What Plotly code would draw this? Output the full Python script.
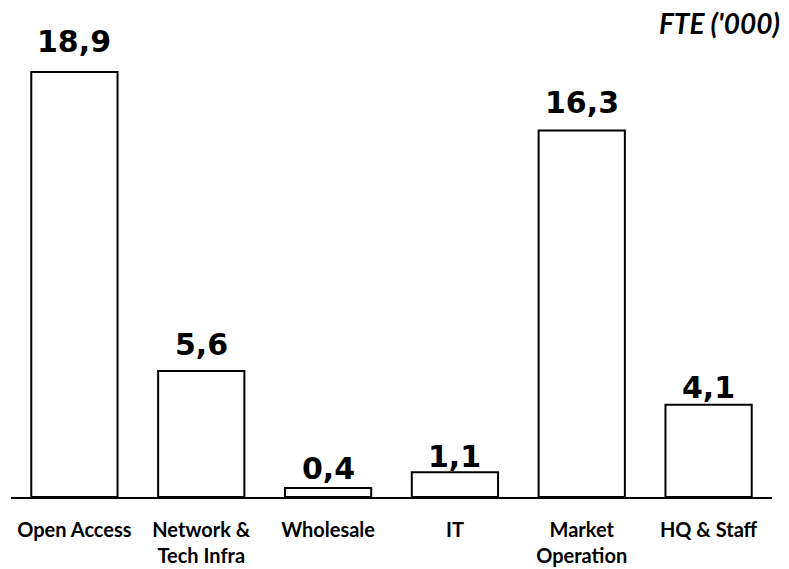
import plotly.graph_objects as go

categories = ["Open Access", "Network &<br>Tech Infra", "Wholesale", "IT",
              "Market<br>Operation", "HQ & Staff"]
fte_thousands = [18.9, 5.6, 0.4, 1.1, 16.3, 4.1]
value_labels = ["18,9", "5,6", "0,4", "1,1", "16,3", "4,1"]

# vertical offset (px) of each value label above its bar
label_lift = [11, 7, 0, -4, 8, -2]

fig = go.Figure()
fig.add_trace(go.Bar(
    x=categories,
    y=fte_thousands,
    marker=dict(color="white", line=dict(color="black", width=2)),
    hoverinfo="skip",
))

for cat, val, lab, lift in zip(categories, fte_thousands, value_labels, label_lift):
    fig.add_annotation(
        x=cat, y=val, text=lab, showarrow=False,
        yanchor="bottom", yshift=lift,
        font=dict(family="DejaVu Sans", size=30, color="black", weight="bold"),
    )

# Unit note in the top right corner
fig.add_annotation(
    xref="paper", yref="paper", x=1.013, y=1.0, xanchor="right", yanchor="bottom",
    yshift=-2,
    text="FTE ('000)", showarrow=False,
    font=dict(family="Lato", size=28, color="black", weight="bold", style="italic"),
)

fig.update_layout(
    width=789, height=569,
    margin=dict(l=11, r=17, t=40, b=72, autoexpand=False),
    paper_bgcolor="white", plot_bgcolor="white",
    bargap=0.32,
    showlegend=False,
    xaxis=dict(
        showline=True, linecolor="black", linewidth=2,
        showgrid=False, zeroline=False, automargin=False,
        ticks="", ticklabelstandoff=14,
        tickfont=dict(family="Lato", size=20, color="black", weight="bold"),
    ),
    yaxis=dict(
        range=[0, 20.32], visible=False, showgrid=False, zeroline=False,
        automargin=False,
    ),
)

fig.write_html("out.html")
